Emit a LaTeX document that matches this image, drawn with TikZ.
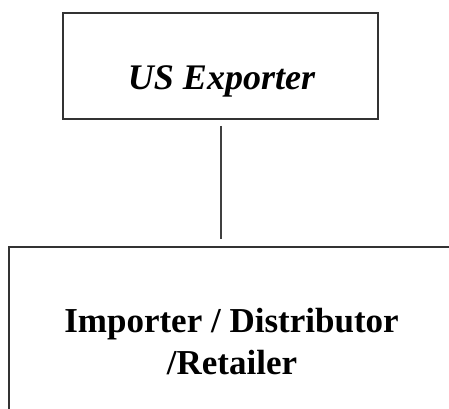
\documentclass[tikz,border=0pt]{standalone}
\usepackage{fontspec}
\setmainfont{Liberation Serif}
\begin{document}
\begin{tikzpicture}[x=1pt,y=-1pt,
  box/.style={draw=black!80, line width=1.5pt, fill=white, inner sep=0pt},
  lbl/.style={anchor=base, inner sep=0pt, font=\fontsize{35}{42}\selectfont\bfseries},
  link/.style={draw=black!75, line width=1.5pt, shorten <=6pt, shorten >=7pt}]
  \useasboundingbox (0,0) rectangle (449,408);
  \clip (0,0) rectangle (449,408);
  % upper box: exporter
  \node[box, minimum width=315pt, minimum height=106pt] (exp) at (220.5,66) {};
  \node[lbl, font=\fontsize{36}{42}\selectfont\bfseries\itshape] (expt) at (221.5,89) {US Exporter};
  % lower box: importer / distributor / retailer
  \node[box, minimum width=446pt, minimum height=200pt] (imp) at (232,347) {};
  \node[lbl] (impa) at (231.5,332) {Importer / Distributor};
  \node[lbl] (impb) at (232,374) {/Retailer};
  % connector between the two boxes
  \draw[link] ([xshift=0.5pt]exp.south) -- ([xshift=0.5pt]exp.south |- imp.north);
\end{tikzpicture}
\end{document}
